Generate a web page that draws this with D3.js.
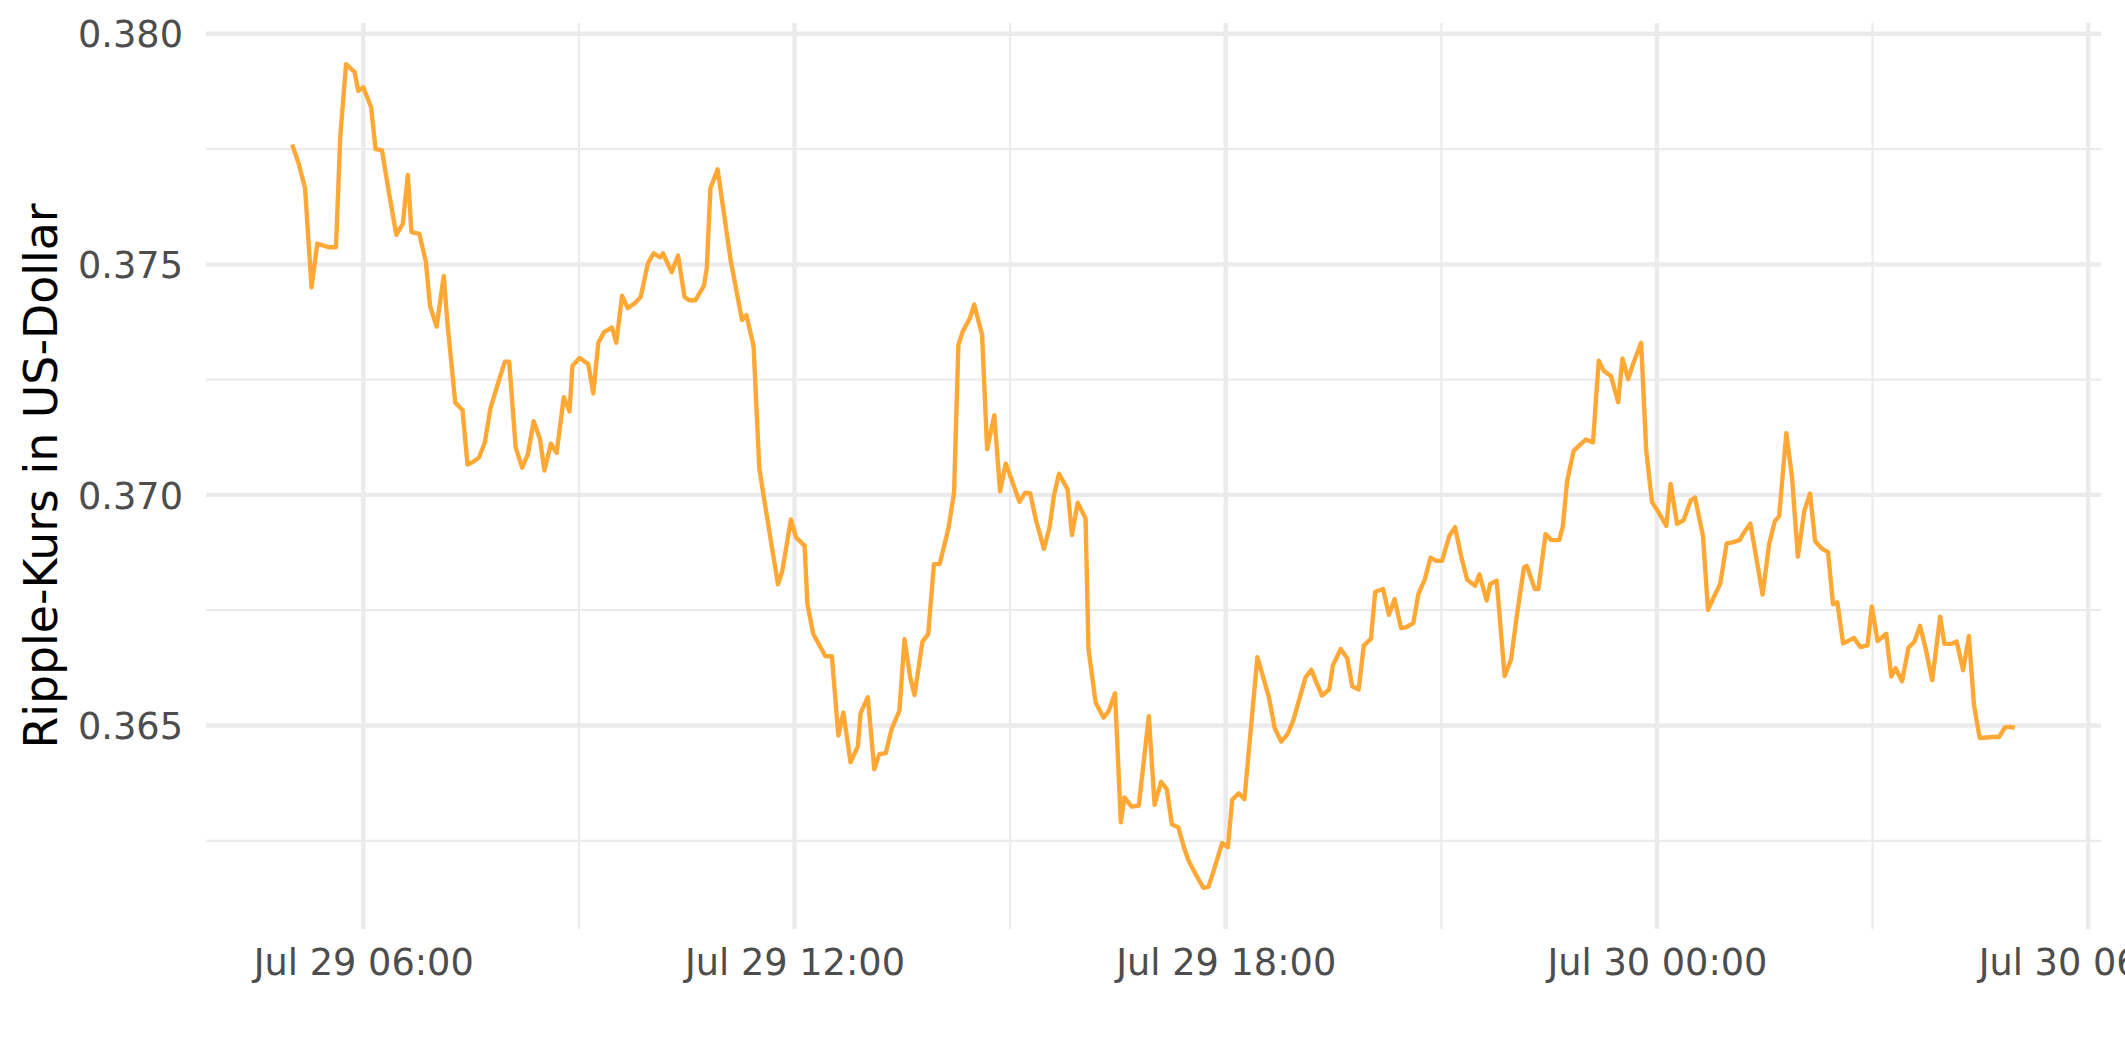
<!DOCTYPE html>
<html>
<head>
<meta charset="utf-8">
<script src="https://cdn.jsdelivr.net/npm/d3@7"></script>
<style>
  html, body { margin: 0; padding: 0; background: #fff; overflow: hidden; }
  svg { display: block; }
  text { font-family: "DejaVu Sans", sans-serif; }
</style>
</head>
<body>
<svg id="chart" width="2125" height="1062"></svg>
<script>
// ---- data (hours after Jul 29 00:00, price in USD) ----
const hours = [
  5.01, 5.10, 5.19, 5.28, 5.36, 5.52, 5.62, 5.68, 5.76, 5.88, 5.93, 6.00,
  6.11, 6.17, 6.26, 6.36, 6.46, 6.55, 6.62, 6.67, 6.78, 6.87, 6.93, 7.02,
  7.12, 7.17, 7.28, 7.38, 7.45, 7.53, 7.61, 7.69, 7.77, 7.86, 7.97, 8.03,
  8.12, 8.21, 8.29, 8.37, 8.46, 8.52, 8.61, 8.69, 8.79, 8.87, 8.91, 9.01,
  9.13, 9.20, 9.27, 9.35, 9.46, 9.52, 9.60, 9.68, 9.78, 9.86, 9.96, 10.04,
  10.13, 10.17, 10.29, 10.38, 10.47, 10.54, 10.62, 10.74, 10.78, 10.83, 10.93, 11.11,
  11.27, 11.33, 11.43, 11.51, 11.58, 11.77, 11.83, 11.95, 12.02, 12.14, 12.18, 12.26,
  12.43, 12.52, 12.61, 12.68, 12.78, 12.88, 12.92, 13.02, 13.11, 13.18, 13.27, 13.35,
  13.46, 13.53, 13.61, 13.67, 13.78, 13.86, 13.94, 14.02, 14.14, 14.22, 14.28, 14.34,
  14.44, 14.50, 14.61, 14.68, 14.78, 14.86, 14.94, 15.13, 15.21, 15.28, 15.36, 15.47,
  15.55, 15.61, 15.68, 15.80, 15.86, 15.94, 16.05, 16.09, 16.19, 16.30, 16.37, 16.46,
  16.54, 16.59, 16.69, 16.79, 16.93, 17.01, 17.10, 17.18, 17.25, 17.34, 17.42, 17.48,
  17.59, 17.69, 17.76, 17.84, 17.95, 18.03, 18.09, 18.18, 18.26, 18.34, 18.44, 18.52,
  18.60, 18.68, 18.77, 18.86, 18.94, 19.11, 19.19, 19.26, 19.34, 19.44, 19.49, 19.60,
  19.69, 19.76, 19.85, 19.92, 20.02, 20.08, 20.19, 20.27, 20.35, 20.44, 20.51, 20.61,
  20.68, 20.77, 20.85, 20.93, 21.01, 21.11, 21.19, 21.28, 21.36, 21.47, 21.53, 21.63,
  21.68, 21.77, 21.88, 21.97, 22.05, 22.15, 22.19, 22.30, 22.35, 22.45, 22.53, 22.64,
  22.69, 22.75, 22.84, 22.93, 23.01, 23.11, 23.19, 23.26, 23.36, 23.46, 23.52, 23.60,
  23.67, 23.78, 23.85, 23.93, 24.02, 24.13, 24.19, 24.28, 24.37, 24.47, 24.53, 24.64,
  24.71, 24.79, 24.88, 24.97, 25.05, 25.15, 25.21, 25.30, 25.47, 25.56, 25.64, 25.70,
  25.80, 25.88, 25.96, 26.05, 26.13, 26.20, 26.29, 26.38, 26.45, 26.51, 26.59, 26.66,
  26.74, 26.83, 26.93, 26.99, 27.07, 27.19, 27.26, 27.32, 27.41, 27.50, 27.58, 27.66,
  27.74, 27.83, 27.94, 28.00, 28.10, 28.17, 28.26, 28.34, 28.41, 28.49, 28.67, 28.76,
  28.84, 28.92, 28.98
];
const prices = [
  0.37760, 0.37719, 0.37665, 0.37450, 0.37545, 0.37537, 0.37537, 0.37778, 0.37934, 0.37917, 0.37876, 0.37884,
  0.37840, 0.37750, 0.37747, 0.37653, 0.37564, 0.37588, 0.37694, 0.37570, 0.37566, 0.37506, 0.37409, 0.37365,
  0.37475, 0.37374, 0.37200, 0.37184, 0.37066, 0.37072, 0.37081, 0.37113, 0.37188, 0.37235, 0.37289, 0.37289,
  0.37103, 0.37059, 0.37088, 0.37160, 0.37120, 0.37053, 0.37111, 0.37091, 0.37212, 0.37181, 0.37280, 0.37297,
  0.37284, 0.37220, 0.37330, 0.37353, 0.37363, 0.37330, 0.37432, 0.37405, 0.37416, 0.37429, 0.37502, 0.37524,
  0.37515, 0.37524, 0.37483, 0.37519, 0.37429, 0.37422, 0.37422, 0.37454, 0.37492, 0.37665, 0.37706, 0.37510,
  0.37379, 0.37390, 0.37323, 0.37058, 0.36988, 0.36806, 0.36835, 0.36947, 0.36908, 0.36890, 0.36763, 0.36699,
  0.36650, 0.36650, 0.36478, 0.36528, 0.36420, 0.36454, 0.36527, 0.36561, 0.36405, 0.36438, 0.36440, 0.36492,
  0.36532, 0.36687, 0.36604, 0.36566, 0.36682, 0.36698, 0.36850, 0.36850, 0.36926, 0.37005, 0.37325, 0.37354,
  0.37383, 0.37413, 0.37347, 0.37099, 0.37173, 0.37008, 0.37068, 0.36985, 0.37005, 0.37003, 0.36945, 0.36883,
  0.36931, 0.36999, 0.37046, 0.37012, 0.36913, 0.36983, 0.36949, 0.36666, 0.36550, 0.36517, 0.36531, 0.36570,
  0.36290, 0.36344, 0.36324, 0.36326, 0.36520, 0.36328, 0.36378, 0.36362, 0.36286, 0.36279, 0.36235, 0.36208,
  0.36175, 0.36148, 0.36150, 0.36189, 0.36245, 0.36236, 0.36339, 0.36353, 0.36340, 0.36477, 0.36648, 0.36605,
  0.36562, 0.36495, 0.36465, 0.36481, 0.36511, 0.36604, 0.36621, 0.36594, 0.36565, 0.36578, 0.36630, 0.36666,
  0.36646, 0.36585, 0.36578, 0.36673, 0.36688, 0.36790, 0.36796, 0.36740, 0.36774, 0.36711, 0.36713, 0.36722,
  0.36785, 0.36817, 0.36864, 0.36857, 0.36857, 0.36911, 0.36930, 0.36864, 0.36816, 0.36803, 0.36828, 0.36771,
  0.36807, 0.36814, 0.36607, 0.36643, 0.36738, 0.36843, 0.36846, 0.36796, 0.36796, 0.36915, 0.36902, 0.36902,
  0.36931, 0.37030, 0.37095, 0.37109, 0.37120, 0.37114, 0.37291, 0.37269, 0.37258, 0.37201, 0.37296, 0.37251,
  0.37285, 0.37330, 0.37098, 0.36985, 0.36963, 0.36933, 0.37024, 0.36937, 0.36945, 0.36988, 0.36994, 0.36911,
  0.36751, 0.36778, 0.36807, 0.36895, 0.36897, 0.36902, 0.36918, 0.36938, 0.36784, 0.36893, 0.36943, 0.36954,
  0.37134, 0.37037, 0.36866, 0.36965, 0.37003, 0.36900, 0.36884, 0.36876, 0.36763, 0.36767, 0.36678, 0.36683,
  0.36690, 0.36670, 0.36674, 0.36758, 0.36683, 0.36699, 0.36606, 0.36624, 0.36596, 0.36669, 0.36681, 0.36716,
  0.36666, 0.36598, 0.36736, 0.36677, 0.36677, 0.36682, 0.36620, 0.36694, 0.36546, 0.36473, 0.36475, 0.36475,
  0.36496, 0.36497, 0.36495
];
const startDate = "2024-07-29T00:00:00";
const yTickValues = [0.365, 0.370, 0.375, 0.380];
const yMinorValues = [0.3625, 0.3675, 0.3725, 0.3775];
const xTickLabelFormat = "%b %d %H:%M";
const yAxisTitle = "Ripple-Kurs in US-Dollar";
const lineColor = "#FFA836";

// ---- build data ----
const t0 = new Date(startDate);
const data = hours.map((h, i) => ({ date: new Date(t0.getTime() + h * 3600000), value: prices[i] }));

// ---- layout ----
const svg = d3.select("#chart");
const panel = { left: 206, right: 2101, top: 23, bottom: 929 };

function expand(ext, f) { const r = ext[1] - ext[0]; return [ext[0] - r * f, ext[1] + r * f]; }

const xExt = d3.extent(data, d => d.date.getTime());
const xDom = expand(xExt, 0.05).map(v => new Date(v));
const yDom = expand(d3.extent(data, d => d.value), 0.05);

const x = d3.scaleTime().domain(xDom).range([panel.left, panel.right]);
const y = d3.scaleLinear().domain(yDom).range([panel.bottom, panel.top]);

const xMajor = x.ticks(d3.timeHour.every(6));
const xMinor = d3.timeHour.every(3).range(xDom[0], xDom[1]).filter(d => d.getHours() % 6 === 3);

const grid = svg.append("g");
// minor grid
grid.selectAll(".ym").data(yMinorValues).join("line")
  .attr("x1", panel.left).attr("x2", panel.right)
  .attr("y1", d => y(d)).attr("y2", d => y(d))
  .attr("stroke", "#EBEBEB").attr("stroke-width", 2.2);
grid.selectAll(".xm").data(xMinor).join("line")
  .attr("x1", d => x(d)).attr("x2", d => x(d))
  .attr("y1", panel.top).attr("y2", panel.bottom)
  .attr("stroke", "#EBEBEB").attr("stroke-width", 2.2);
// major grid
grid.selectAll(".yM").data(yTickValues).join("line")
  .attr("x1", panel.left).attr("x2", panel.right)
  .attr("y1", d => y(d)).attr("y2", d => y(d))
  .attr("stroke", "#EBEBEB").attr("stroke-width", 4.4);
grid.selectAll(".xM").data(xMajor).join("line")
  .attr("x1", d => x(d)).attr("x2", d => x(d))
  .attr("y1", panel.top).attr("y2", panel.bottom)
  .attr("stroke", "#EBEBEB").attr("stroke-width", 4.4);

// line
const line = d3.line().x(d => x(d.date)).y(d => y(d.value));
svg.append("path").datum(data)
  .attr("d", line)
  .attr("fill", "none")
  .attr("stroke", lineColor)
  .attr("stroke-width", 4.4)
  .attr("stroke-linejoin", "round")
  .attr("stroke-linecap", "butt");

// axes (text only, ggplot minimal)
const fmt = d3.timeFormat(xTickLabelFormat);
const xAxis = d3.axisBottom(x).tickValues(xMajor).tickFormat(fmt).tickSize(0).tickPadding(0);
const gx = svg.append("g").attr("transform", `translate(0,${panel.bottom})`).call(xAxis);
gx.select(".domain").remove();
gx.selectAll("text")
  .attr("y", 46).attr("dy", null)
  .attr("fill", "#4D4D4D")
  .style("font-size", "36.7px")
  .style("font-family", "DejaVu Sans");

const yAxis = d3.axisLeft(y).tickValues(yTickValues).tickFormat(d3.format(".3f")).tickSize(0).tickPadding(0);
const gy = svg.append("g").attr("transform", `translate(183,0)`).call(yAxis);
gy.select(".domain").remove();
gy.selectAll("text")
  .attr("x", 0).attr("dy", "0.36em")
  .attr("fill", "#4D4D4D")
  .style("font-size", "36.7px")
  .style("font-family", "DejaVu Sans");

// y title
svg.append("text")
  .attr("transform", `translate(57,${(panel.top + panel.bottom) / 2}) rotate(-90)`)
  .attr("text-anchor", "middle")
  .attr("fill", "#000")
  .style("font-size", "45.8px")
  .text(yAxisTitle);
</script>
</body>
</html>
